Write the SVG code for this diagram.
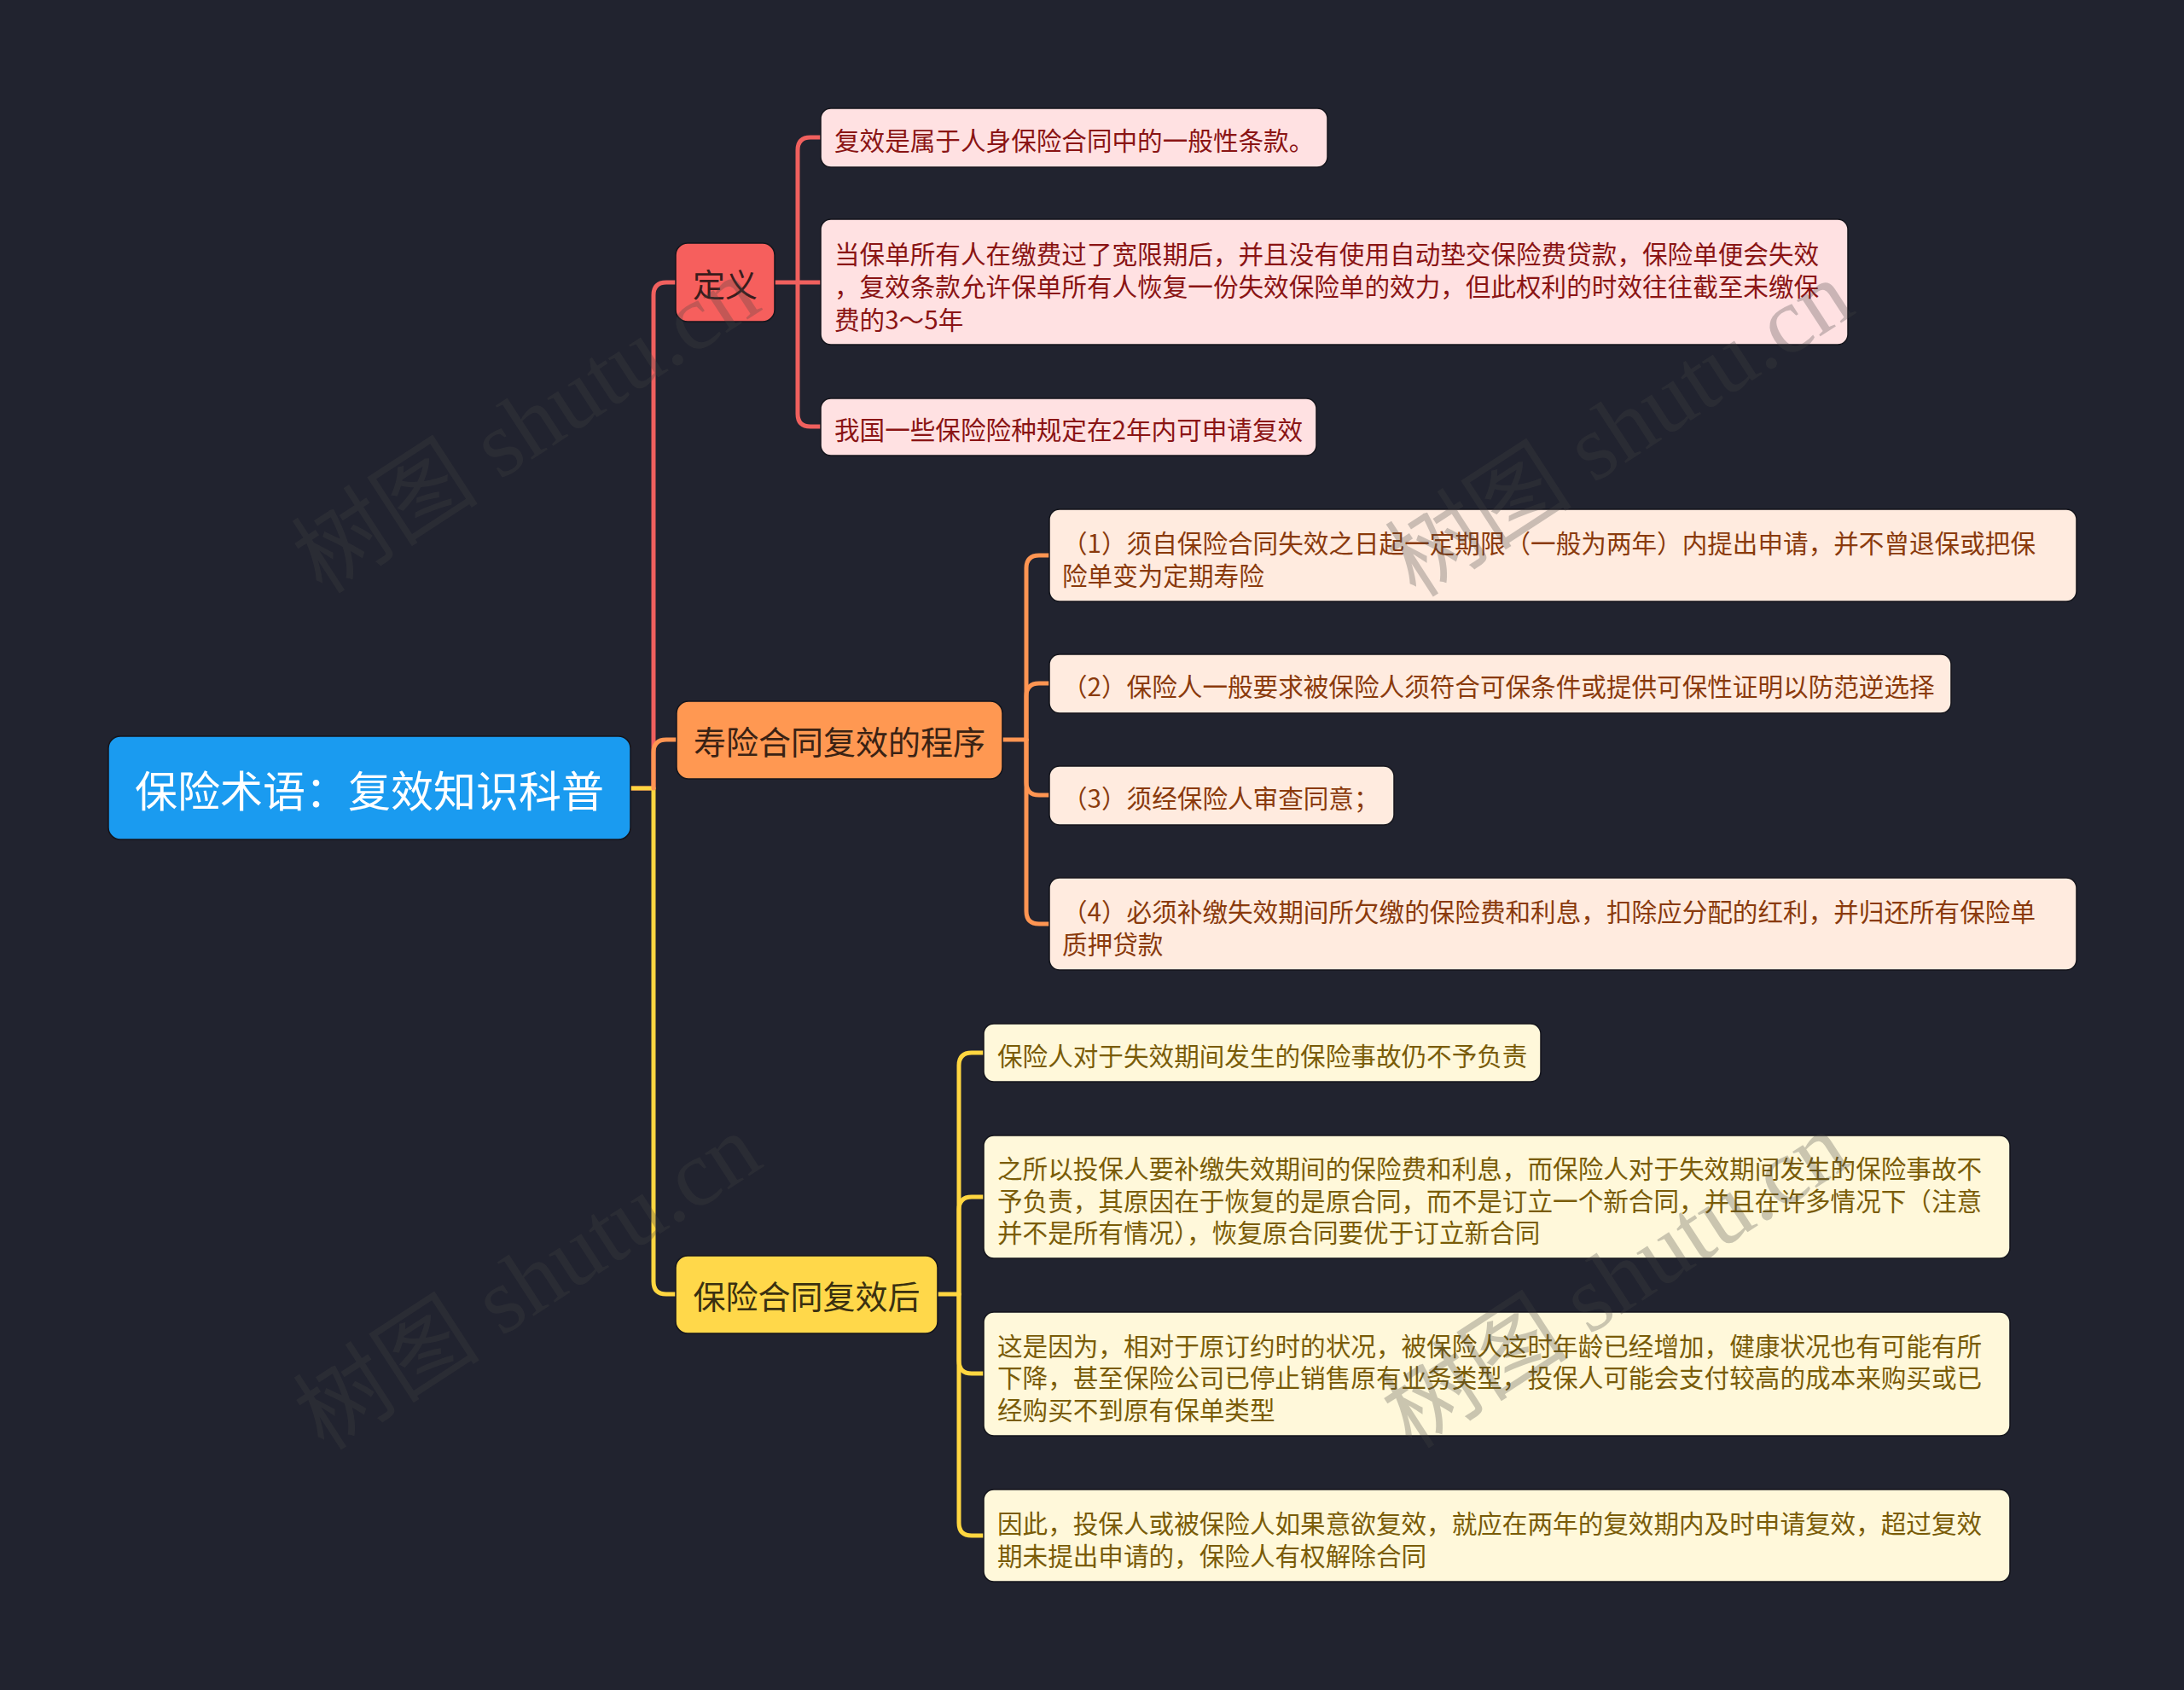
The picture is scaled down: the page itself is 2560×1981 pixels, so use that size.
<svg xmlns="http://www.w3.org/2000/svg" width="2560" height="1981" viewBox="0 0 2560 1981">
<style>
.t{font-family:"Noto Sans CJK SC","Noto Sans",sans-serif;dominant-baseline:central}
.lf{font-size:29.6px}
.l1{font-size:38px;text-anchor:middle}
.root{font-size:50px;text-anchor:middle;fill:#ffffff}
.box{stroke:#14151c;stroke-width:1.5}
.cn{fill:none;stroke-width:5;stroke-linecap:round;stroke-linejoin:round}
.r{stroke:#F0605E}.o{stroke:#FF9552}.y{stroke:#FFD640}
.pk{fill:#FFE1E2}.pkt{fill:#8A1414}
.pc{fill:#FFEBDF}.pct{fill:#8A3A0C}
.cr{fill:#FFF8DA}.crt{fill:#7A5C08}
.wm{font-family:"Liberation Serif","Noto Sans CJK SC",serif;font-size:110px;fill:#444;opacity:0.28}
</style>
<rect width="2560" height="1981" fill="#21232F"/>

<g id="connectors">
<path class="cn r" d="M740 924 H766 V346 Q766 331 781 331 H792"/>
<path class="cn y" d="M740 924 H766 V1502 Q766 1517 781 1517 H792"/>
<path class="cn o" d="M766 924 V882 Q766 867 781 867 H793"/>
<path class="cn r" d="M908 331 H962"/>
<path class="cn r" d="M935 331 V176 Q935 161 950 161 H962"/>
<path class="cn r" d="M935 331 V485 Q935 500 950 500 H962"/>
<path class="cn o" d="M1175 867 H1203"/>
<path class="cn o" d="M1203 867 V666 Q1203 651 1218 651 H1230"/>
<path class="cn o" d="M1203 867 V816 Q1203 801 1218 801 H1230"/>
<path class="cn o" d="M1203 867 V917 Q1203 932 1218 932 H1230"/>
<path class="cn o" d="M1203 867 V1068 Q1203 1083 1218 1083 H1230"/>
<path class="cn y" d="M1099 1517 H1124"/>
<path class="cn y" d="M1124 1517 V1249 Q1124 1234 1139 1234 H1153"/>
<path class="cn y" d="M1124 1517 V1418 Q1124 1403 1139 1403 H1153"/>
<path class="cn y" d="M1124 1517 V1595 Q1124 1610 1139 1610 H1153"/>
<path class="cn y" d="M1124 1517 V1785 Q1124 1800 1139 1800 H1153"/>
</g>

<g id="root">
<rect class="box" x="127" y="863" width="612" height="121" rx="14" fill="#1A9BF0"/>
<text class="t root" x="433" y="924">保险术语：复效知识科普</text>
</g>

<g id="n-dingyi">
<rect class="box" x="792" y="285" width="116" height="92" rx="14" fill="#F65F5D"/>
<text class="t l1" x="850" y="331" fill="#3A1C1C">定义</text>
</g>
<g id="n-chengxu">
<rect class="box" x="793" y="822" width="382" height="91" rx="14" fill="#FF9852"/>
<text class="t l1" x="984" y="867.5" fill="#3A2214">寿险合同复效的程序</text>
</g>
<g id="n-fuxiaohou">
<rect class="box" x="792" y="1472" width="307" height="91" rx="14" fill="#FFD84A"/>
<text class="t l1" x="945.5" y="1517.5" fill="#3A3010">保险合同复效后</text>
</g>

<g id="d1">
<rect class="box pk" x="962" y="127" width="594" height="69" rx="12"/>
<text class="t lf pkt" x="978" y="163">复效是属于人身保险合同中的一般性条款。</text>
</g>
<g id="d2">
<rect class="box pk" x="962" y="257" width="1204" height="147" rx="12"/>
<text class="t lf pkt" x="978" y="296">当保单所有人在缴费过了宽限期后，并且没有使用自动垫交保险费贷款，保险单便会失效</text>
<text class="t lf pkt" x="978" y="334.5">，复效条款允许保单所有人恢复一份失效保险单的效力，但此权利的时效往往截至未缴保</text>
<text class="t lf pkt" x="978" y="373">费的3～5年</text>
</g>
<g id="d3">
<rect class="box pk" x="962" y="467" width="581" height="67" rx="12"/>
<text class="t lf pkt" x="978" y="502">我国一些保险险种规定在2年内可申请复效</text>
</g>

<g id="p1">
<rect class="box pc" x="1230" y="597" width="1204" height="108" rx="12"/>
<text class="t lf pct" x="1245" y="635.5">（1）须自保险合同失效之日起一定期限（一般为两年）内提出申请，并不曾退保或把保</text>
<text class="t lf pct" x="1245" y="673">险单变为定期寿险</text>
</g>
<g id="p2">
<rect class="box pc" x="1230" y="767" width="1057" height="69" rx="12"/>
<text class="t lf pct" x="1245" y="803">（2）保险人一般要求被保险人须符合可保条件或提供可保性证明以防范逆选择</text>
</g>
<g id="p3">
<rect class="box pc" x="1230" y="898" width="404" height="69" rx="12"/>
<text class="t lf pct" x="1245" y="934">（3）须经保险人审查同意；</text>
</g>
<g id="p4">
<rect class="box pc" x="1230" y="1029" width="1204" height="108" rx="12"/>
<text class="t lf pct" x="1245" y="1067.5">（4）必须补缴失效期间所欠缴的保险费和利息，扣除应分配的红利，并归还所有保险单</text>
<text class="t lf pct" x="1245" y="1105">质押贷款</text>
</g>

<g id="y1">
<rect class="box cr" x="1153" y="1200" width="653" height="68" rx="12"/>
<text class="t lf crt" x="1169" y="1236">保险人对于失效期间发生的保险事故仍不予负责</text>
</g>
<g id="y2">
<rect class="box cr" x="1153" y="1331" width="1203" height="144" rx="12"/>
<text class="t lf crt" x="1169" y="1368.5">之所以投保人要补缴失效期间的保险费和利息，而保险人对于失效期间发生的保险事故不</text>
<text class="t lf crt" x="1169" y="1406">予负责，其原因在于恢复的是原合同，而不是订立一个新合同，并且在许多情况下（注意</text>
<text class="t lf crt" x="1169" y="1443.5">并不是所有情况），恢复原合同要优于订立新合同</text>
</g>
<g id="y3">
<rect class="box cr" x="1153" y="1538" width="1203" height="145" rx="12"/>
<text class="t lf crt" x="1169" y="1576">这是因为，相对于原订约时的状况，被保险人这时年龄已经增加，健康状况也有可能有所</text>
<text class="t lf crt" x="1169" y="1613.5">下降，甚至保险公司已停止销售原有业务类型，投保人可能会支付较高的成本来购买或已</text>
<text class="t lf crt" x="1169" y="1651">经购买不到原有保单类型</text>
</g>
<g id="y4">
<rect class="box cr" x="1153" y="1746" width="1203" height="108" rx="12"/>
<text class="t lf crt" x="1169" y="1784.5">因此，投保人或被保险人如果意欲复效，就应在两年的复效期内及时申请复效，超过复效</text>
<text class="t lf crt" x="1169" y="1822">期未提出申请的，保险人有权解除合同</text>
</g>

<g id="watermarks">
<text class="wm" x="378" y="698" transform="rotate(-33 378 698)">树图 shutu.cn</text>
<text class="wm" x="1660" y="702" transform="rotate(-33 1660 702)">树图 shutu.cn</text>
<text class="wm" x="380" y="1702" transform="rotate(-33 380 1702)">树图 shutu.cn</text>
<text class="wm" x="1655" y="1700" transform="rotate(-33 1655 1700)">树图 shutu.cn</text>
</g>
</svg>
